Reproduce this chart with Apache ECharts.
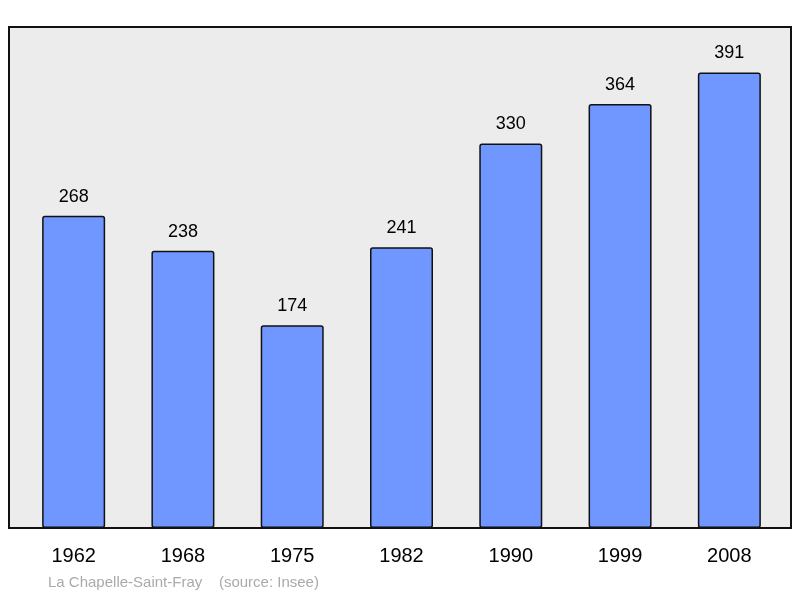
<!DOCTYPE html>
<html><head><meta charset="utf-8">
<script src="https://cdn.jsdelivr.net/npm/echarts@6/dist/echarts.min.js"></script>
<style>html,body{margin:0;padding:0;background:#fff}#c{width:800px;height:598px}</style>
</head><body><div id="c"></div>
<script>
const years = ['1962','1968','1975','1982','1990','1999','2008'];
const population = [268,238,174,241,330,364,391];
const chart = echarts.init(document.getElementById('c'));
chart.setOption({
  animation:false,
  graphic:[
    {type:'rect',shape:{x:9,y:27,width:782,height:501},style:{fill:'#ececec',stroke:'#111',lineWidth:2},z:-10},
    {type:'text',left:48,top:575,style:{text:'La Chapelle-Saint-Fray    (source: Insee)',fill:'#aaa',font:'15px "Liberation Sans", Arial, sans-serif'}}
  ],
  grid:{left:19,right:16,top:27,bottom:70},
  xAxis:{type:'category',data:years,axisLine:{show:false},axisTick:{show:false},
    axisLabel:{fontSize:20,color:'#000',margin:18,fontFamily:'"Liberation Sans", Arial, sans-serif'}},
  yAxis:{type:'value',min:0,max:430,show:false,splitLine:{show:false}},
  series:[{type:'bar',data:population,barWidth:63,
    itemStyle:{color:'#6f97ff',borderColor:'#111',borderWidth:1.5,borderRadius:2},
    label:{show:true,position:'top',distance:10,fontSize:18,color:'#000',fontFamily:'"Liberation Sans", Arial, sans-serif'}}]
});
</script></body></html>
